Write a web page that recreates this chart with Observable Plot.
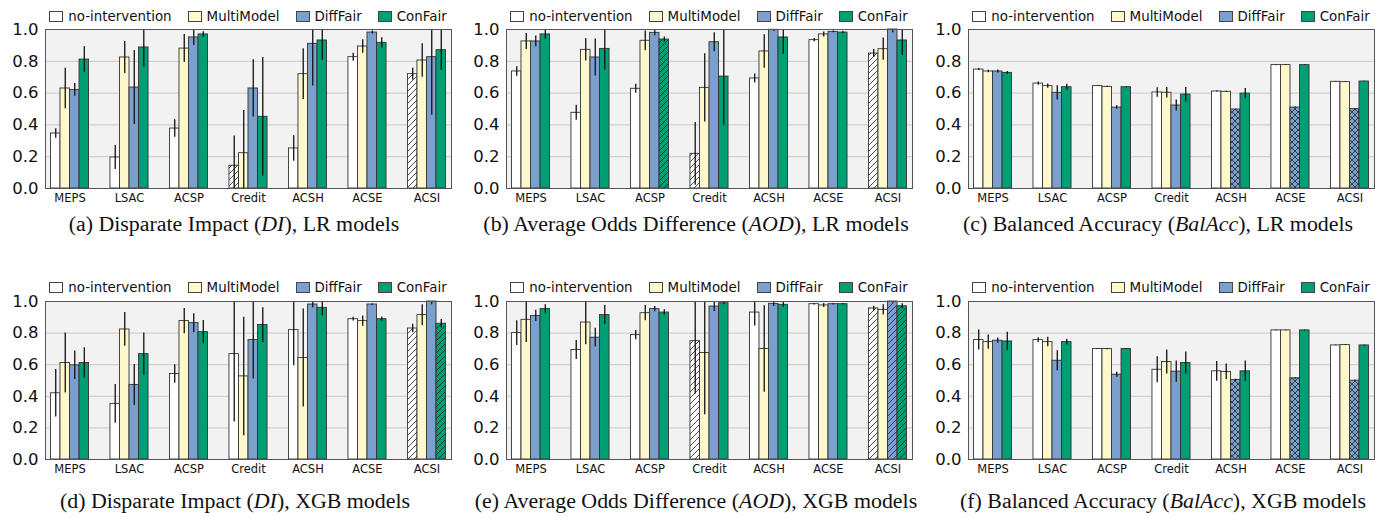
<!DOCTYPE html>
<html><head><meta charset="utf-8">
<script src="https://cdn.jsdelivr.net/npm/d3@7"></script>
<script src="https://cdn.jsdelivr.net/npm/@observablehq/plot@0.6"></script>
<style>
html,body{margin:0;padding:0;background:#fff;}
body{width:1387px;height:517px;position:relative;overflow:hidden;font-family:"DejaVu Sans",sans-serif;color:#111;}
.panel{position:absolute;}
.legend{position:absolute;display:flex;justify-content:center;align-items:center;gap:16px;font-size:13.4px;white-space:nowrap;height:16px;}
.legend .item{display:flex;align-items:center;}
.legend .sw{width:12px;height:9px;border:1px solid #444;margin-right:5px;}
.caption{position:absolute;font-family:"Liberation Serif","Times New Roman",serif;font-size:21.9px;line-height:1;white-space:nowrap;transform:translateX(-50%);}
</style></head><body>
<svg width="0" height="0" style="position:absolute"><defs id="pats"></defs></svg>
<script>
// ---------------- data ----------------
const datasets = ["MEPS","LSAC","ACSP","Credit","ACSH","ACSE","ACSI"];
const methods = ["no-intervention","MultiModel","DiffFair","ConFair"];
const methodColors = ["#ffffff","#fef8cc","#7ba0cd","#009e73"];
const yTicks = [0, 0.2, 0.4, 0.6, 0.8, 1.0];

// rows: no-intervention, MultiModel, DiffFair, ConFair ; columns follow datasets
const diLR_mean = [
 [0.346,0.195,0.377,0.143,0.252,0.826,0.719],
 [0.629,0.824,0.880,0.222,0.719,0.893,0.805],
 [0.620,0.635,0.950,0.629,0.910,0.981,0.826],
 [0.811,0.887,0.969,0.451,0.931,0.916,0.870]];
const diLR_err = [
 [0.030,0.075,0.055,0.187,0.080,0.025,0.037],
 [0.128,0.100,0.088,0.268,0.160,0.043,0.105],
 [0.040,0.233,0.050,0.180,0.265,0.010,0.366],
 [0.080,0.125,0.017,0.373,0.124,0.032,0.126]];
const diLR_hatch = [["no-intervention","Credit","/"],["no-intervention","ACSI","/"]];

const aodLR_mean = [
 [0.736,0.476,0.627,0.218,0.692,0.933,0.849],
 [0.925,0.872,0.929,0.633,0.862,0.969,0.876],
 [0.925,0.824,0.979,0.920,0.998,0.985,1.000],
 [0.969,0.878,0.937,0.704,0.950,0.981,0.931]];
const aodLR_err = [
 [0.030,0.047,0.028,0.197,0.028,0.010,0.025],
 [0.050,0.070,0.062,0.215,0.105,0.016,0.070],
 [0.034,0.117,0.018,0.060,0.010,0.005,0.020],
 [0.030,0.135,0.016,0.306,0.105,0.008,0.095]];
const aodLR_hatch = [["no-intervention","Credit","/"],["no-intervention","ACSI","/"],["ConFair","ACSP","/"]];

const balLR_mean = [
 [0.748,0.660,0.644,0.604,0.610,0.776,0.671],
 [0.736,0.644,0.639,0.602,0.608,0.776,0.669],
 [0.736,0.602,0.509,0.522,0.497,0.509,0.499],
 [0.727,0.637,0.637,0.591,0.597,0.776,0.673]];
const balLR_err = [
 [0.006,0.010,0.003,0.030,0.003,0.002,0.002],
 [0.008,0.014,0.004,0.033,0.003,0.002,0.002],
 [0.010,0.045,0.011,0.035,0.002,0.003,0.003],
 [0.009,0.019,0.003,0.045,0.032,0.002,0.002]];
const balLR_hatch = [["DiffFair","ACSH","x"],["DiffFair","ACSE","x"],["DiffFair","ACSI","x"]];

const diXGB_mean = [
 [0.419,0.352,0.541,0.667,0.819,0.888,0.829],
 [0.611,0.823,0.876,0.526,0.642,0.876,0.914],
 [0.596,0.472,0.863,0.756,0.981,0.981,1.000],
 [0.611,0.667,0.806,0.851,0.960,0.888,0.859]];
const diXGB_err = [
 [0.150,0.122,0.058,0.430,0.225,0.012,0.027],
 [0.190,0.107,0.080,0.375,0.310,0.032,0.066],
 [0.090,0.130,0.060,0.246,0.020,0.005,0.020],
 [0.097,0.133,0.074,0.110,0.050,0.014,0.027]];
const diXGB_hatch = [["no-intervention","ACSI","/"],["ConFair","ACSI","/"]];

const aodXGB_mean = [
 [0.800,0.693,0.787,0.749,0.930,0.983,0.956],
 [0.884,0.867,0.926,0.674,0.699,0.975,0.947],
 [0.909,0.771,0.952,0.968,0.985,0.983,1.000],
 [0.952,0.914,0.930,0.989,0.979,0.983,0.970]];
const aodXGB_err = [
 [0.078,0.060,0.029,0.335,0.085,0.005,0.014],
 [0.143,0.140,0.048,0.390,0.274,0.013,0.032],
 [0.036,0.059,0.017,0.031,0.016,0.005,0.010],
 [0.027,0.060,0.017,0.010,0.016,0.005,0.016]];
const aodXGB_hatch = [["no-intervention","Credit","/"],["no-intervention","ACSI","/"],["DiffFair","ACSI","/"],["ConFair","ACSI","/"]];

const balXGB_mean = [
 [0.756,0.756,0.699,0.568,0.558,0.817,0.722],
 [0.743,0.743,0.699,0.617,0.554,0.817,0.724],
 [0.752,0.625,0.537,0.556,0.503,0.514,0.499],
 [0.747,0.743,0.699,0.611,0.558,0.817,0.722]];
const balXGB_err = [
 [0.063,0.015,0.003,0.083,0.063,0.002,0.002],
 [0.045,0.030,0.004,0.076,0.050,0.002,0.003],
 [0.017,0.063,0.016,0.067,0.005,0.004,0.002],
 [0.059,0.018,0.003,0.069,0.065,0.003,0.002]];
const balXGB_hatch = [["DiffFair","ACSH","x"],["DiffFair","ACSE","x"],["DiffFair","ACSI","x"]];

// ---------------- layout ----------------
const panels = [
 {mean:diLR_mean,  err:diLR_err,  hatch:diLR_hatch,  left:45,  top:29,  h:159, legTop:8,   cap:"(a) Disparate Impact (<i>DI</i>), LR models", capX:234, capTop:213},
 {mean:aodLR_mean, err:aodLR_err, hatch:aodLR_hatch, left:506, top:29,  h:159, legTop:8,   cap:"(b) Average Odds Difference (<i>AOD</i>), LR models", capX:696, capTop:213},
 {mean:balLR_mean, err:balLR_err, hatch:balLR_hatch, left:968, top:29,  h:159, legTop:8,   cap:"(c) Balanced Accuracy (<i>BalAcc</i>), LR models", capX:1158, capTop:213},
 {mean:diXGB_mean, err:diXGB_err, hatch:diXGB_hatch, left:45,  top:301, h:158, legTop:279, cap:"(d) Disparate Impact (<i>DI</i>), XGB models", capX:235, capTop:489.5},
 {mean:aodXGB_mean,err:aodXGB_err,hatch:aodXGB_hatch,left:506, top:301, h:158, legTop:279, cap:"(e) Average Odds Difference (<i>AOD</i>), XGB models", capX:696, capTop:489.5},
 {mean:balXGB_mean,err:balXGB_err,hatch:balXGB_hatch,left:968, top:301, h:158, legTop:279, cap:"(f) Balanced Accuracy (<i>BalAcc</i>), XGB models", capX:1163, capTop:489.5}
];
const ML = 45, MR = 6, MT = 4, MB = 30, PW = 406;

// hatch patterns
const defs = document.getElementById("pats");
const NS = "http://www.w3.org/2000/svg";
methodColors.forEach((c, k) => {
  [["s","M0,6L6,0M-1.5,1.5L1.5,-1.5M4.5,7.5L7.5,4.5"],
   ["x","M0,6L6,0M-1.5,1.5L1.5,-1.5M4.5,7.5L7.5,4.5M0,0L6,6M-1.5,4.5L1.5,7.5M4.5,-1.5L7.5,1.5"]].forEach(([t, d]) => {
    const p = document.createElementNS(NS, "pattern");
    p.setAttribute("id", `hatch-${k}-${t}`);
    p.setAttribute("patternUnits", "userSpaceOnUse");
    p.setAttribute("width", 6); p.setAttribute("height", 6);
    const r = document.createElementNS(NS, "rect");
    r.setAttribute("width", 6); r.setAttribute("height", 6); r.setAttribute("fill", c);
    const path = document.createElementNS(NS, "path");
    path.setAttribute("d", d); path.setAttribute("stroke", "#222"); path.setAttribute("stroke-width", 0.8); path.setAttribute("fill", "none");
    p.appendChild(r); p.appendChild(path); defs.appendChild(p);
  });
});

const bw = 0.16;
panels.forEach(p => {
  const rows = [];
  p.mean.forEach((vals, k) => vals.forEach((v, i) => {
    const hh = p.hatch.find(h => h[0] === methods[k] && h[1] === datasets[i]);
    rows.push({i, k, v, e: p.err[k][i], h: hh ? hh[2] : ""});
  }));
  const chart = Plot.plot({
    width: ML + PW + MR, height: MT + p.h + MB,
    marginLeft: ML, marginRight: MR, marginTop: MT, marginBottom: MB,
    style: {fontFamily: '"DejaVu Sans", sans-serif', background: "transparent", color: "#111", overflow: "visible"},
    x: {type: "linear", domain: [-0.412, 6.412]},
    y: {domain: [0, 1]},
    color: {type: "identity"},
    marks: [
      Plot.frame({fill: "#f2f2f2", stroke: "none"}),
      Plot.ruleY(yTicks.slice(1, -1), {stroke: "#c9c9c9", strokeWidth: 1}),
      Plot.rect(rows, {
        x1: d => d.i + (d.k - 2) * bw, x2: d => d.i + (d.k - 1) * bw,
        y1: 0, y2: "v",
        fill: d => d.h ? `url(#hatch-${d.k}-${d.h === "/" ? "s" : "x"})` : methodColors[d.k],
        stroke: "#333", strokeWidth: 0.9
      }),
      Plot.ruleX(rows, {x: d => d.i + (d.k - 1.5) * bw, y1: d => d.v - d.e, y2: d => d.v + d.e, stroke: "#111", strokeWidth: 1.3, clip: true}),
      Plot.frame({stroke: "#555", strokeWidth: 1}),
      Plot.axisY(yTicks, {tickFormat: d3.format(".1f"), tickSize: 0, tickPadding: 7, fontSize: 16.5, label: null}),
      Plot.axisX(d3.range(datasets.length), {tickFormat: i => datasets[i], tickSize: 0, tickPadding: 5, fontSize: 11.5, label: null})
    ]
  });
  const div = document.createElement("div");
  div.className = "panel";
  div.style.left = (p.left - ML) + "px";
  div.style.top = (p.top - MT) + "px";
  div.appendChild(chart);
  document.body.appendChild(div);

  const leg = document.createElement("div");
  leg.className = "legend";
  leg.style.left = p.left + "px"; leg.style.width = PW + "px"; leg.style.top = p.legTop + "px";
  methods.forEach((m, k) => {
    const it = document.createElement("div"); it.className = "item";
    const sw = document.createElement("div"); sw.className = "sw"; sw.style.background = methodColors[k];
    const tx = document.createElement("span"); tx.textContent = m;
    it.appendChild(sw); it.appendChild(tx); leg.appendChild(it);
  });
  document.body.appendChild(leg);

  const cap = document.createElement("div");
  cap.className = "caption";
  cap.style.left = p.capX + "px"; cap.style.top = p.capTop + "px";
  cap.innerHTML = p.cap;
  document.body.appendChild(cap);
});
</script>
</body></html>
